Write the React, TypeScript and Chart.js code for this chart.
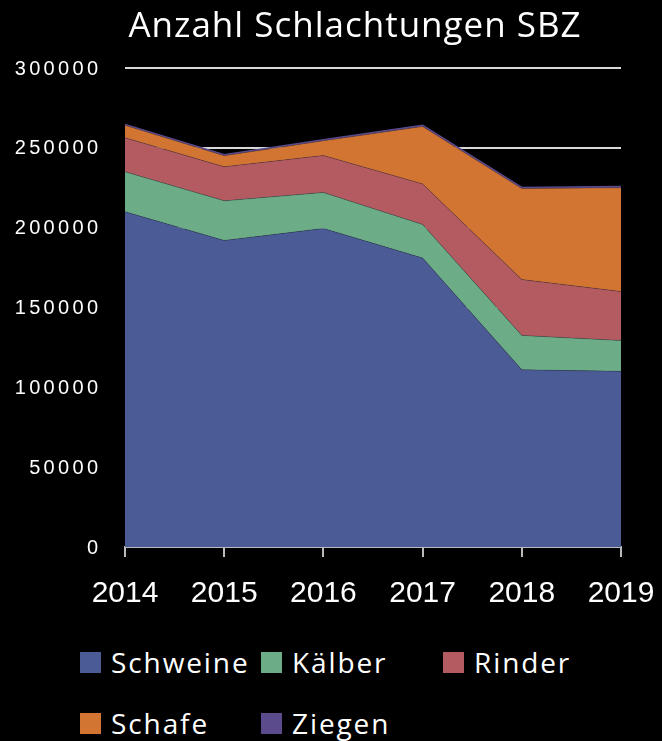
import React, { useEffect, useRef } from "react";
import { Chart, registerables } from "chart.js";

Chart.register(...registerables);

const years = ["2014", "2015", "2016", "2017", "2018", "2019"];
const schweine = [210000, 192000, 199500, 181000, 111000, 110000];
const kaelber = [25000, 24800, 22500, 21000, 21500, 19300];
const rinder = [21300, 21300, 23200, 25400, 35000, 30700];
const schafe = [7800, 7000, 9200, 36000, 57000, 65000];
const ziegen = [600, 600, 700, 800, 700, 800];

const seriesNames = ["Schweine", "Kälber", "Rinder", "Schafe", "Ziegen"];
const seriesColors = ["#4b5b96", "#6cad88", "#b35b61", "#d27533", "#5b4a8c"];
const seriesValues = [schweine, kaelber, rinder, schafe, ziegen];

const titleText = "Anzahl Schlachtungen SBZ";

const legendPos = [
  { left: 80, top: 652 },
  { left: 261, top: 652 },
  { left: 443, top: 652 },
  { left: 80, top: 713 },
  { left: 261, top: 713 },
];

const yLabelPlugin = {
  id: "yLabels",
  afterDraw(chart: any) {
    const scale = chart.scales.y;
    const ctx = chart.ctx;
    ctx.save();
    ctx.fillStyle = "#ffffff";
    ctx.font = "20px 'Liberation Sans'";
    (ctx as any).letterSpacing = "3.3px";
    ctx.textAlign = "right";
    ctx.textBaseline = "middle";
    scale.ticks.forEach((t: any) => {
      const y = scale.getPixelForValue(t.value);
      ctx.fillText(String(t.value), 98 + 3.3, y + 1);
    });
    ctx.restore();
  },
};

export default function App() {
  const ref = useRef<HTMLCanvasElement | null>(null);

  useEffect(() => {
    if (!ref.current) return;
    const chart = new Chart(ref.current, {
      type: "line",
      data: {
        labels: years,
        datasets: seriesValues.map((vals, i) => ({
          label: seriesNames[i],
          data: vals,
          backgroundColor: seriesColors[i],
          borderColor: i === 4 ? seriesColors[i] : "rgba(40,40,60,0.5)",
          borderWidth: i === 4 ? 1.5 : 0.6,
          fill: i === 0 ? "origin" : "-1",
          pointRadius: 0,
          tension: 0,
        })),
      },
      plugins: [yLabelPlugin],
      options: {
        animation: false,
        responsive: false,
        maintainAspectRatio: false,
        layout: { padding: { left: 0, right: 41, top: 68, bottom: 0 } },
        plugins: {
          legend: { display: false },
          tooltip: { enabled: false },
          title: { display: false },
        },
        scales: {
          x: {
            offset: false,
            afterFit: (scale: any) => {
              scale.paddingLeft = 0;
              scale.paddingRight = 0;
            },
            grid: {
              drawOnChartArea: false,
              drawTicks: true,
              tickLength: 10,
              color: "#bbbbbb",
              lineWidth: 2,
            },
            border: { display: true, color: "#bbbbbb", width: 2 },
            ticks: {
              color: "#ffffff",
              font: { family: "Liberation Sans", size: 30 },
              padding: 19,
              maxRotation: 0,
            },
          },
          y: {
            stacked: true,
            min: 0,
            max: 300000,
            afterFit: (scale: any) => {
              scale.width = 125;
              scale.paddingTop = 0;
              scale.paddingBottom = 0;
            },
            grid: {
              drawTicks: false,
              color: "#d8d8d8",
              lineWidth: 2,
            },
            border: { display: false },
            ticks: {
              display: false,
              stepSize: 50000,
            },
          },
        },
      },
    });
    return () => chart.destroy();
  }, []);

  return (
    <div
      style={{
        position: "absolute",
        left: 0,
        top: 0,
        width: 662,
        height: 741,
        background: "#000000",
        overflow: "hidden",
      }}
    >
      <canvas ref={ref} width={662} height={631} style={{ display: "block" }} />
      <div
        style={{
          position: "absolute",
          left: 0,
          width: 710,
          top: 6,
          textAlign: "center",
          fontFamily: "'Open Sans'",
          fontSize: 35,
          lineHeight: "35px",
          letterSpacing: 1.0,
          color: "#ffffff",
          whiteSpace: "nowrap",
        }}
      >
        {titleText}
      </div>
      {seriesNames.map((name, i) => (
        <React.Fragment key={name}>
          <div
            style={{
              position: "absolute",
              left: legendPos[i].left,
              top: legendPos[i].top,
              width: 21,
              height: 21,
              background: seriesColors[i],
            }}
          />
          <div
            style={{
              position: "absolute",
              left: legendPos[i].left + 31,
              top: legendPos[i].top - 4,
              fontFamily: "'Open Sans'",
              fontSize: 28,
              lineHeight: "28px",
              letterSpacing: 1.9,
              color: "#ffffff",
              whiteSpace: "nowrap",
            }}
          >
            {name}
          </div>
        </React.Fragment>
      ))}
    </div>
  );
}
